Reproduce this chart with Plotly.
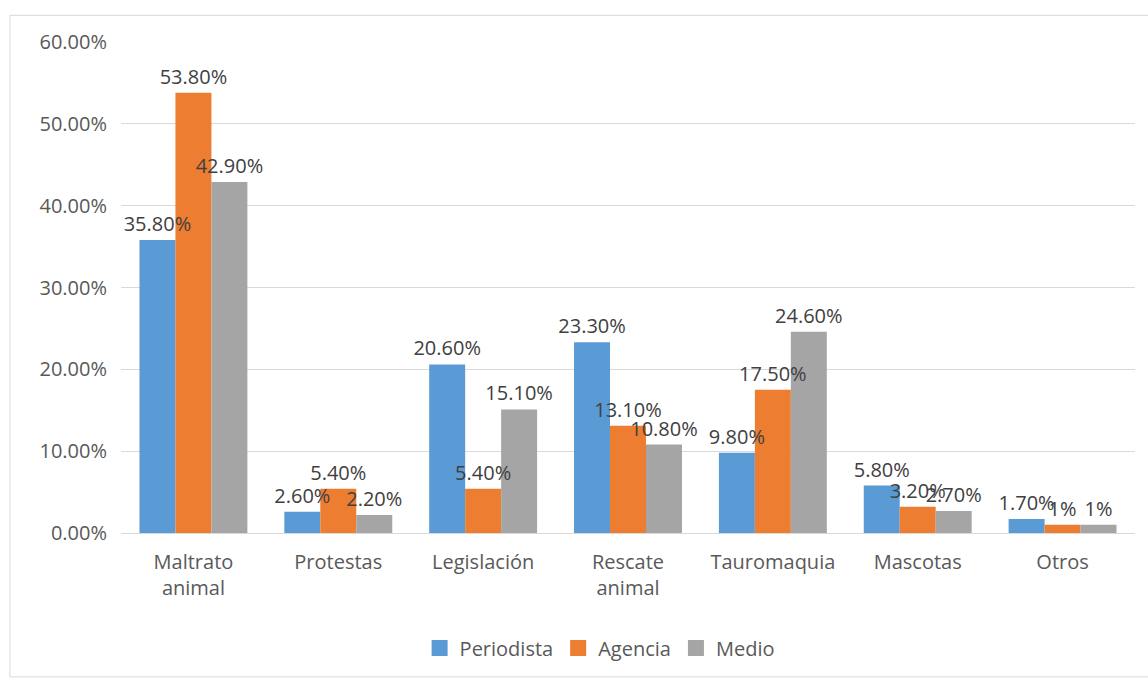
import plotly.graph_objects as go

# Topics covered and the share of each source type (percent)
categories = ["Maltrato<br>animal", "Protestas", "Legislación", "Rescate<br>animal",
              "Tauromaquia", "Mascotas", "Otros"]
periodista = [35.8, 2.6, 20.6, 23.3, 9.8, 5.8, 1.7]
agencia = [53.8, 5.4, 5.4, 13.1, 17.5, 3.2, 1]
medio = [42.9, 2.2, 15.1, 10.8, 24.6, 2.7, 1]

series = [("Periodista", periodista, "#5B9BD5"),
          ("Agencia", agencia, "#ED7D31"),
          ("Medio", medio, "#A5A5A5")]

FONT = "Open Sans"
SIZE = 20


def label(v):
    return f"{v:.2f}%" if v % 1 else f"{v:.0f}%"


fig = go.Figure()
# coloured bars
for i, (name, vals, color) in enumerate(series):
    fig.add_trace(go.Bar(
        x=categories, y=vals, name=name, showlegend=False,
        offsetgroup=str(i),
        marker=dict(color=color, line=dict(width=0)),
    ))

# value labels drawn in a layer above every bar
for i, (name, vals, color) in enumerate(series):
    fig.add_trace(go.Bar(
        x=categories, y=vals, name=name, showlegend=False, hoverinfo="skip",
        offsetgroup=str(i),
        marker=dict(color="rgba(0,0,0,0)", line=dict(width=0)),
        text=[label(v) for v in vals],
        textposition="outside",
        constraintext="none",
        cliponaxis=False,
        textfont=dict(family=FONT, size=SIZE, color="#404040"),
    ))

# square legend keys
for name, vals, color in series:
    fig.add_trace(go.Scatter(
        x=[None], y=[None], name=name, mode="markers",
        marker=dict(symbol="square", size=17, color=color),
    ))

fig.update_layout(
    width=1148, height=681,
    margin=dict(l=121, r=13, t=42, b=148),
    paper_bgcolor="white", plot_bgcolor="white",
    barmode="group", bargap=0.255, bargroupgap=0.0,
    font=dict(family=FONT, size=SIZE, color="#595959"),
    showlegend=True,
    legend=dict(orientation="h", x=0.472, xanchor="center", y=-0.234, yanchor="middle",
                font=dict(family=FONT, size=SIZE, color="#595959"),
                itemwidth=30, traceorder="normal", tracegroupgap=0),
    shapes=[dict(type="rect", xref="paper", yref="paper",
                 x0=-0.1095, x1=1.02, y0=-0.293, y1=1.0543,
                 line=dict(color="#D9D9D9", width=1), layer="below")],
)
fig.update_yaxes(range=[0, 60], dtick=10, tickformat=".2f", ticksuffix="%",
                 showgrid=True, gridcolor="#D9D9D9", gridwidth=1,
                 zeroline=True, zerolinecolor="#D9D9D9", zerolinewidth=1,
                 showline=False, ticks="", ticklabelstandoff=13,
                 tickfont=dict(family=FONT, size=SIZE, color="#595959"))
fig.update_xaxes(showgrid=False, showline=False, ticks="", ticklabelstandoff=15,
                 tickfont=dict(family=FONT, size=SIZE, color="#595959"))

fig.write_html("out.html")
